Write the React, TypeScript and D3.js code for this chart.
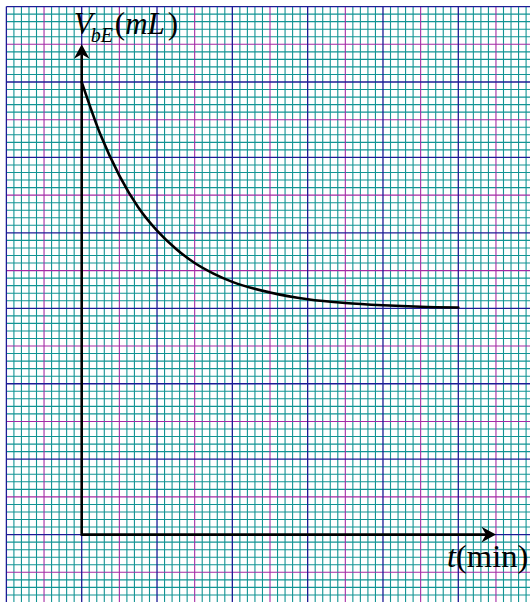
import React from 'react';
import * as d3 from 'd3';

// time in major squares, volume in major squares
const times = [0, 0.25, 0.5, 0.75, 1, 1.25, 1.5, 1.75, 2, 2.5, 3, 3.5, 4, 4.5, 5];
const volumes = [6.0, 5.3, 4.76, 4.34, 4.03, 3.79, 3.6, 3.46, 3.35, 3.21, 3.12, 3.07, 3.04, 3.02, 3.01];

const W = 530;
const H = 602;

const x = d3.scaleLinear().domain([0, 5]).range([81.7, 458.3]);
const y = d3.scaleLinear().domain([0, 6]).range([534.6, 82.0]);

const TEAL = '#129494';
const MAGENTA = '#a52aa5';
const NAVY = '#1c1c96';

function gridLines() {
  const left = x(-1);
  const top = y(7);
  const vLines: { p: number; c: string; w: number }[] = [];
  const hLines: { p: number; c: string; w: number }[] = [];
  const kind = (i: number) =>
    i % 10 === 0 ? { c: NAVY, w: 1.3 } : i % 5 === 0 ? { c: MAGENTA, w: 1.1 } : { c: TEAL, w: 1.1 };
  for (let i = -10; i <= 62; i++) {
    const px = x(i / 10);
    if (px > W + 1) break;
    vLines.push({ p: px, ...kind(i) });
  }
  for (let i = 70; i >= -12; i--) {
    const py = y(i / 10);
    if (py > H + 1) break;
    hLines.push({ p: py, ...kind(i) });
  }
  const order = (a: { c: string }) => (a.c === TEAL ? 0 : a.c === MAGENTA ? 1 : 2);
  const all = [
    ...vLines.map(l => ({ ...l, v: true })),
    ...hLines.map(l => ({ ...l, v: false })),
  ].sort((a, b) => order(a) - order(b));
  return all.map((l, i) =>
    l.v ? (
      <line key={i} x1={l.p} x2={l.p} y1={top} y2={H} stroke={l.c} strokeWidth={l.w} />
    ) : (
      <line key={i} x1={left} x2={W} y1={l.p} y2={l.p} stroke={l.c} strokeWidth={l.w} />
    )
  );
}

export default function App() {
  const line = d3
    .line<number>()
    .x((_, i) => x(times[i]))
    .y(d => y(d))
    .curve(d3.curveMonotoneX);

  const x0 = x(0);
  const y0 = y(0);
  const yTip = y(6.5);
  const xTip = x(5.5);

  const upArrow = `M${x0},${yTip} L${x0 + 7.8},${yTip + 14.5} L${x0},${yTip + 10} L${x0 - 7.8},${yTip + 14.5} Z`;
  const rightArrow = `M${xTip},${y0} L${xTip - 14.5},${y0 - 7.8} L${xTip - 10},${y0} L${xTip - 14.5},${y0 + 7.8} Z`;

  return (
    <svg
      width={W}
      height={H}
      style={{ position: 'absolute', left: 0, top: 0, background: '#fff' }}
    >
      {gridLines()}

      <line x1={x0} x2={x0} y1={y0 + 1.2} y2={yTip + 10} stroke="#000" strokeWidth={2.6} />
      <line x1={x0} x2={xTip - 10} y1={y0} y2={y0} stroke="#000" strokeWidth={2.6} />
      <path d={upArrow} fill="#000" />
      <path d={rightArrow} fill="#000" />

      <path d={line(volumes) || ''} fill="none" stroke="#000" strokeWidth={2.6} strokeLinecap="round" />

      <text
        x={x0 - 8}
        y={34}
        fontFamily="'Liberation Serif', 'Times New Roman', serif"
        fontSize={31}
        fill="#000"
      >
        <tspan fontStyle="italic">V</tspan>
        <tspan fontStyle="italic" fontSize={20} dy={8} dx={-2}>bE</tspan>
        <tspan dy={-8} dx={2}>(</tspan>
        <tspan fontStyle="italic">mL</tspan>
        <tspan dx={3}>)</tspan>
      </text>

      <text
        x={447}
        y={567}
        fontFamily="'Liberation Serif', 'Times New Roman', serif"
        fontSize={32.5}
        fill="#000"
      >
        <tspan fontStyle="italic">t</tspan>
        <tspan>(min)</tspan>
      </text>
    </svg>
  );
}
